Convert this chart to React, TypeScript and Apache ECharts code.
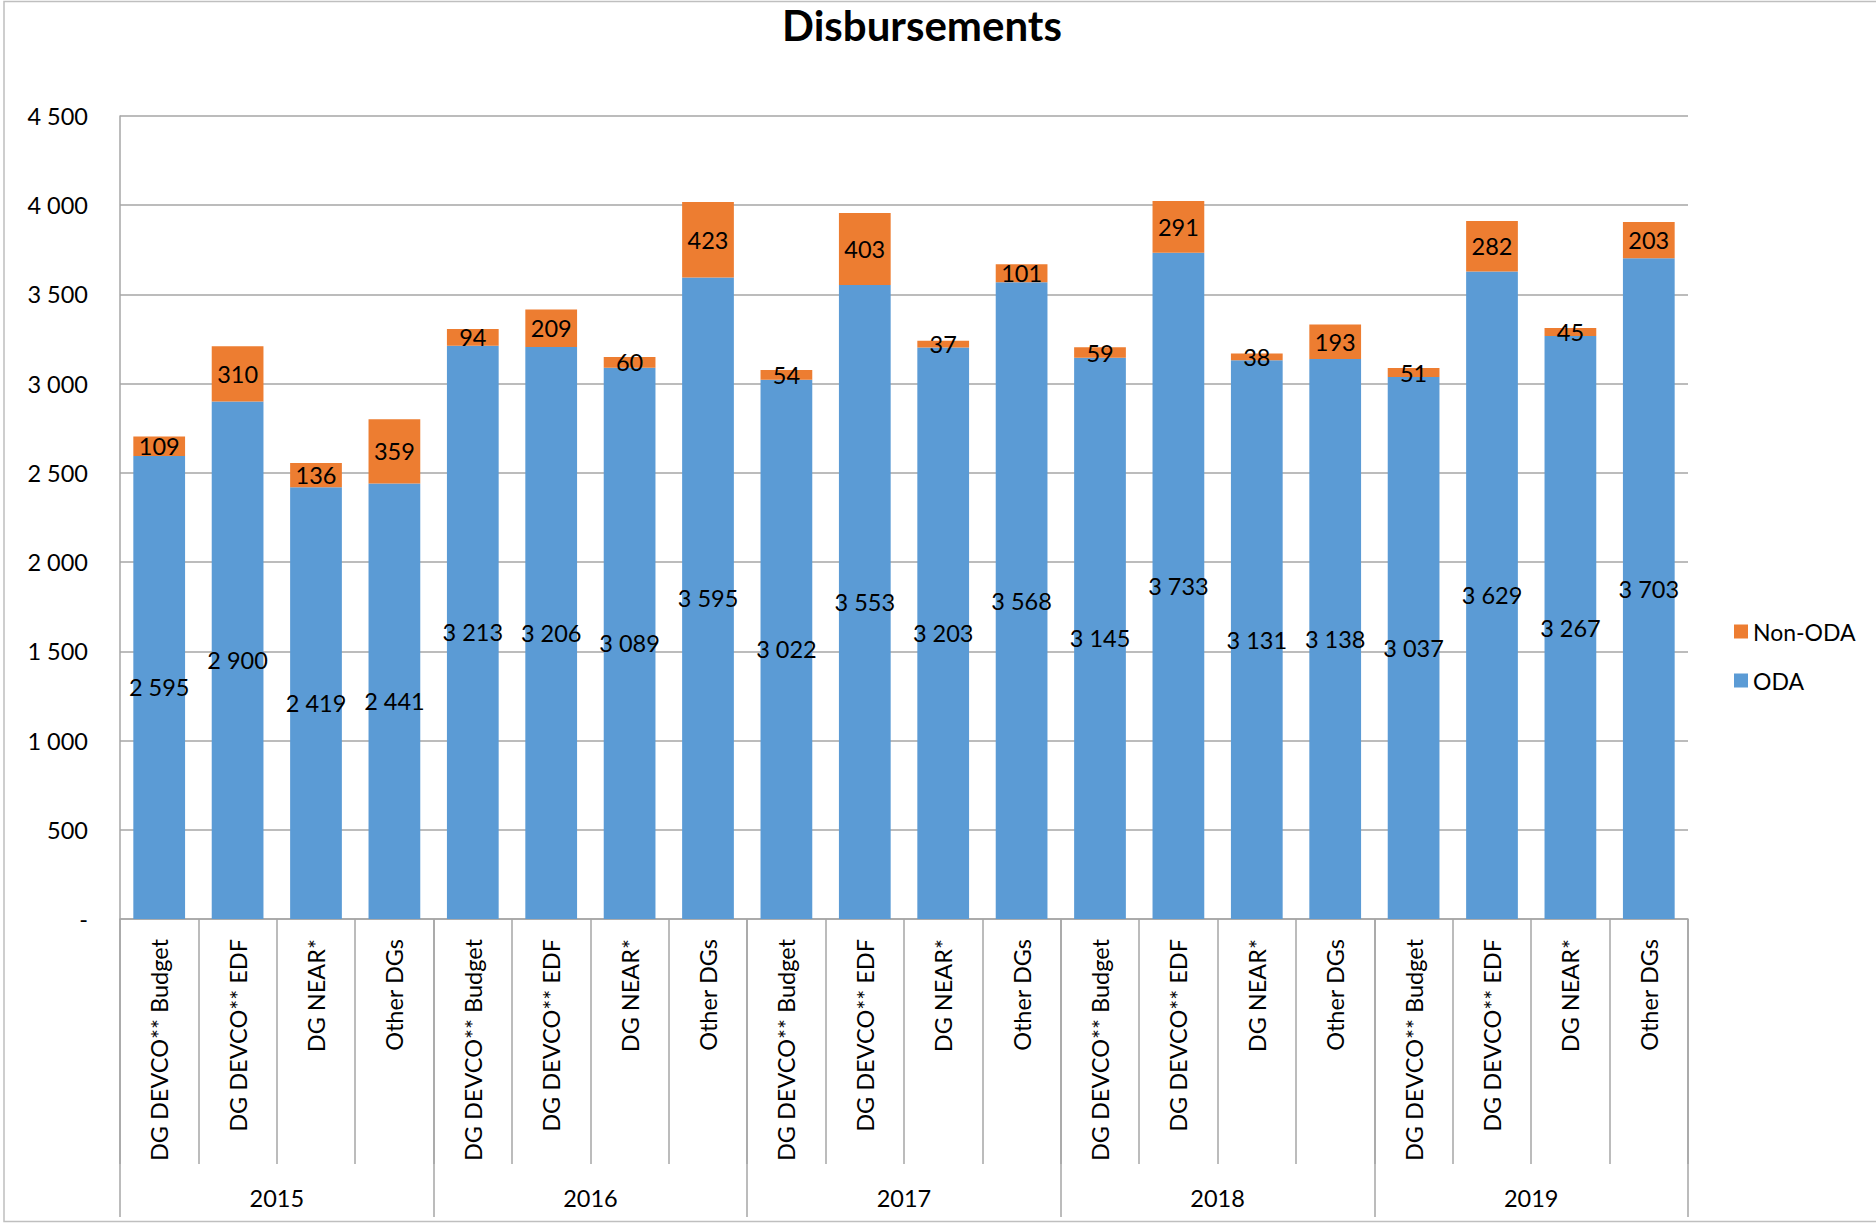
import React, { useEffect, useRef } from "react";
import * as echarts from "echarts";

const categories = [
  "DG DEVCO** Budget", "DG DEVCO** EDF", "DG NEAR*", "Other DGs",
  "DG DEVCO** Budget", "DG DEVCO** EDF", "DG NEAR*", "Other DGs",
  "DG DEVCO** Budget", "DG DEVCO** EDF", "DG NEAR*", "Other DGs",
  "DG DEVCO** Budget", "DG DEVCO** EDF", "DG NEAR*", "Other DGs",
  "DG DEVCO** Budget", "DG DEVCO** EDF", "DG NEAR*", "Other DGs",
];
const years = ["2015", "2016", "2017", "2018", "2019"];
const odaValues = [2595, 2900, 2419, 2441, 3213, 3206, 3089, 3595, 3022, 3553, 3203, 3568, 3145, 3733, 3131, 3138, 3037, 3629, 3267, 3703];
const nonOdaValues = [109, 310, 136, 359, 94, 209, 60, 423, 54, 403, 37, 101, 59, 291, 38, 193, 51, 282, 45, 203];

const FONT = "Lato, 'Open Sans', sans-serif";
const fmt = (v: number) => (v === 0 ? "-" : String(v).replace(/\B(?=(\d{3})+(?!\d))/g, " "));

export default function App() {
  const ref = useRef<HTMLDivElement>(null);
  useEffect(() => {
    document.body.style.margin = "0";
    const chart = echarts.init(ref.current!, null, { renderer: "svg" });
    const gridColor = "#a6a6a6";
    chart.setOption({
      animation: false,
      backgroundColor: "#ffffff",
      textStyle: { fontFamily: FONT },
      title: {
        text: "Disbursements",
        left: 922,
        textAlign: "center",
        top: 4,
        padding: 0,
        textStyle: { fontFamily: FONT, fontWeight: "bold", fontSize: 42, lineHeight: 42, color: "#000" },
      },
      graphic: [
        {
          type: "rect",
          shape: { x: 4, y: 1.5, width: 1900, height: 1220 },
          style: { fill: "none", stroke: "#bfbfbf", lineWidth: 1.5 },
          silent: true,
        },
      ],
      legend: {
        orient: "vertical",
        left: 1729,
        top: 615,
        itemWidth: 14,
        itemHeight: 14,
        itemGap: 26,
        icon: "rect",
        data: ["Non-ODA", "ODA"],
        textStyle: { fontFamily: FONT, fontSize: 23, color: "#000" },
      },
      grid: { left: 120, right: 188, top: 116, bottom: 307, containLabel: false },
      xAxis: [
        {
          type: "category",
          data: categories,
          position: "bottom",
          axisLine: { show: true, lineStyle: { color: gridColor, width: 1.5 } },
          axisTick: { show: true, interval: 0, alignWithLabel: false, length: 245, lineStyle: { color: gridColor, width: 1.5 } },
          axisLabel: {
            interval: 0,
            rotate: 90,
            margin: 20,
            fontFamily: FONT,
            fontSize: 23.5,
            color: "#000",
          },
        },
        {
          type: "category",
          data: years,
          position: "bottom",
          gridIndex: 0,
          axisLine: { show: false },
          axisTick: { show: true, interval: 0, alignWithLabel: false, length: 298, lineStyle: { color: gridColor, width: 1.5 } },
          axisLabel: { interval: 0, margin: 267, fontFamily: FONT, fontSize: 23.5, color: "#000" },
        },
      ],
      yAxis: {
        type: "value",
        min: 0,
        max: 4500,
        interval: 500,
        axisLine: { show: true, lineStyle: { color: gridColor, width: 1.5 } },
        axisTick: { show: false },
        splitLine: { lineStyle: { color: gridColor, width: 1.5 } },
        axisLabel: {
          margin: 32,
          fontFamily: FONT,
          fontSize: 23.5,
          color: "#000",
          formatter: (v: number) => fmt(v),
        },
      },
      series: [
        {
          name: "ODA",
          type: "bar",
          stack: "total",
          xAxisIndex: 0,
          barWidth: "66%",
          itemStyle: { color: "#5B9BD5" },
          label: {
            show: true,
            position: "inside",
            fontFamily: FONT,
            fontSize: 23.5,
            color: "#000",
            formatter: (p: any) => fmt(p.value),
          },
          data: odaValues,
        },
        {
          name: "Non-ODA",
          type: "bar",
          stack: "total",
          xAxisIndex: 0,
          barWidth: "66%",
          itemStyle: { color: "#ED7D31" },
          label: {
            show: true,
            position: "inside",
            fontFamily: FONT,
            fontSize: 23.5,
            color: "#000",
            formatter: (p: any) => fmt(p.value),
          },
          labelLayout: { hideOverlap: false },
          data: nonOdaValues,
        },
      ],
    });
    return () => chart.dispose();
  }, []);
  return <div ref={ref} style={{ width: 1876, height: 1226 }} />;
}
